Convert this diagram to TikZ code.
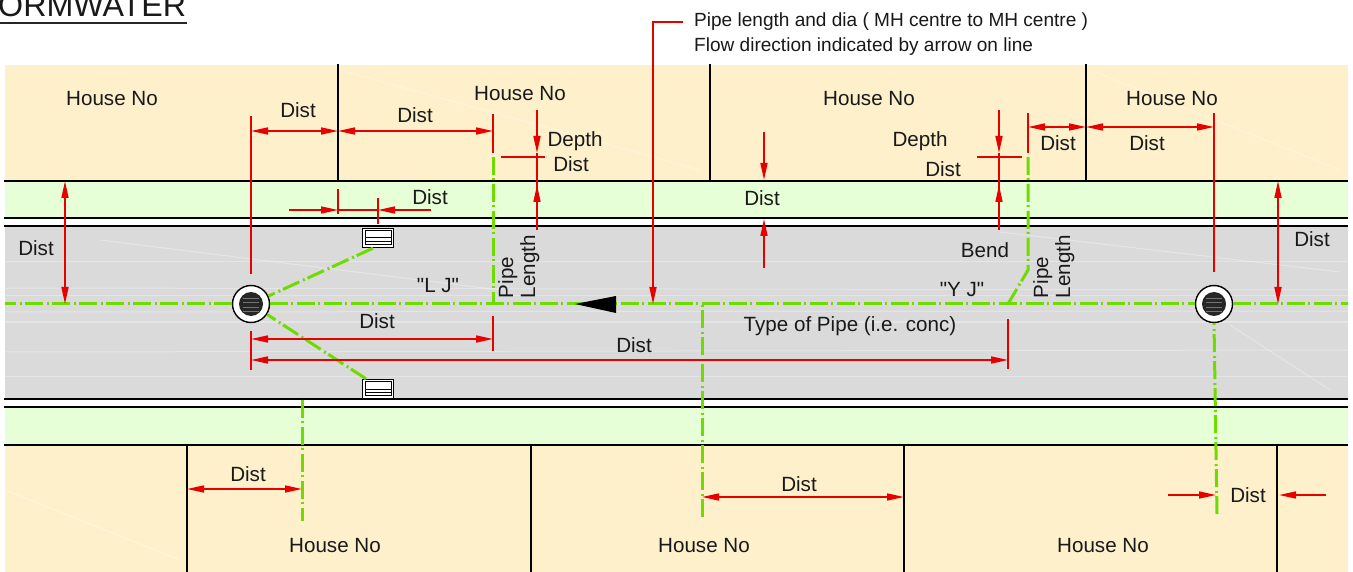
\documentclass[tikz,border=0pt]{standalone}
\usepackage{fontspec}
\setmainfont{Liberation Sans}[Ligatures=TeXOff]
\usetikzlibrary{arrows.meta}
\definecolor{lotc}{HTML}{FFF0CC}
\definecolor{vergec}{HTML}{E6FFD6}
\definecolor{roadc}{HTML}{DADADA}
\definecolor{redc}{HTML}{E60000}
\definecolor{pipec}{HTML}{6FDB00}
\tikzset{
  lbl/.style={font=\fontsize{20.6}{24}\selectfont,inner sep=0pt,text=black!90},
  note/.style={font=\fontsize{19.05}{23}\selectfont,inner sep=0pt,anchor=west,text=black!90},
  vlbl/.style={lbl,rotate=90,anchor=base west},
  bound/.style={draw=black,line width=1.9pt},
  thinbound/.style={draw=black,line width=1.2pt},
  pipe/.style={draw=pipec,line width=3pt,dash pattern=on 18pt off 3pt on 2pt off 4pt},
  dimline/.style={draw=redc,line width=1.6pt},
  tipa/.style={dimline,-{Stealth[inset=0pt,length=17pt,width=7pt]}},
  tipb/.style={dimline,{Stealth[inset=0pt,length=17pt,width=7pt]}-{Stealth[inset=0pt,length=17pt,width=7pt]}},
  manhole/.style={circle,draw=black,line width=1.4pt,fill=white,minimum size=37pt,inner sep=0pt},
  pit/.style={rectangle,draw=black,line width=1.4pt,fill=white,minimum width=31pt,minimum height=19pt,inner sep=0pt},
  streak/.style={draw=white,opacity=.3,line width=1pt}
}
\begin{document}
\begin{tikzpicture}[x=1pt,y=-1pt]
\useasboundingbox (0,0) rectangle (1353,572);
\fill[white] (0,0) rectangle (1353,572);
% areas
\fill[lotc] (5,65) rectangle (1348,181);
\fill[vergec] (5,181) rectangle (1348,218);
\fill[roadc] (5,226) rectangle (1348,399);
\fill[vergec] (5,407) rectangle (1348,445);
\fill[lotc] (5,445) rectangle (1348,572);
\foreach \ya/\yb in {262/262,288/290,296/296,312/311,322/322,352/350,376/376}
  \draw[streak] (5,\ya) -- (1348,\yb);
\draw[streak] (100,240) -- (500,290);
\draw[streak] (1000,232) -- (1340,272);
\draw[streak] (1230,325) -- (1330,390);
\draw[streak] (340,70) -- (700,170);
\draw[streak] (1090,70) -- (1340,170);
\draw[streak] (5,490) -- (180,560);
% title
\node[anchor=base west,font=\fontsize{32.2}{36}\selectfont,inner sep=0pt,text=black!90] (title) at (-2,17) {ORMWATER};
\coordinate (ulA) at (0,23); \coordinate (ulB) at (187,23);
\draw[black!85,line width=1.4pt] (ulA) -- (ulB);
% boundaries
\foreach \y/\s in {181/bound,218/bound,226/thinbound,399/bound,407/bound,445/bound}
  \draw[\s] (4,\y) -- (1348,\y);
\foreach \x in {338,710,1086}
  \draw[bound] (\x,64) -- (\x,181);
\foreach \x in {187,531,904,1277}
  \draw[bound] (\x,445) -- (\x,572);
% structures
\node[manhole] (mhL) at (251,304) {};
\node[manhole] (mhR) at (1214,304) {};
\foreach \m in {mhL,mhR}{
  \fill[black!85] (\m) circle (12pt);
  \foreach \dy in {-6,-2,3,7}
    \draw[black!55,line width=.5pt] ([shift={(-8,\dy)}]\m.center) -- ([shift={(8,\dy)}]\m.center);
}
\node[pit] (pitT) at (378,238) {};
\node[pit] (pitB) at (378,389) {};
\foreach \p in {pitT,pitB}{
  \draw[black,line width=1pt] ([shift={(3.5,-3.5)}]\p.south west) rectangle ([shift={(-3,3)}]\p.north east);
  \draw[black,line width=1pt] ([shift={(3.5,0)}]\p.west) -- ([shift={(-3,0)}]\p.east);
  \draw[black,line width=1pt] ([shift={(3.5,3.5)}]\p.west) -- ([shift={(-3,3.5)}]\p.east);
}
% pipes
\coordinate (pipeW) at (5,304); \coordinate (pipeE) at (1348,304);
\coordinate (jL) at (493,304); \coordinate (jLt) at (493,157);
\coordinate (jY) at (1008,304); \coordinate (bendY) at (1028,270); \coordinate (jYt) at (1028,157);
\coordinate (jM) at (702,304); \coordinate (jMb) at (702,517);
\coordinate (sB) at (302,400); \coordinate (sBb) at (302,521);
\coordinate (sR) at (1214,323); \coordinate (sRb) at (1217,514);
\draw[pipe] (mhL.west) -- (pipeW);
\draw[pipe] (mhL.east) -- (mhR.west);
\draw[pipe] (mhR.east) -- (pipeE);
\draw[pipe] ([xshift=-5pt]pitT.south) -- (mhL);
\draw[pipe] ([xshift=-12pt]pitB.north) -- (mhL);
\draw[pipe] (jLt) -- (jL);
\draw[pipe] (jYt) -- (bendY) -- (jY);
\draw[pipe] (jMb) -- (jM);
\draw[pipe] (sB) -- (sBb);
\draw[pipe] (sRb) -- (sR);
% flow arrow
\coordinate (flowA) at (575,304); \coordinate (flowB) at (616,296); \coordinate (flowC) at (616,313);
\fill[black] (flowA) -- (flowB) -- (flowC) -- cycle;
% left top dims
\coordinate (a1) at (251,116); \coordinate (a2) at (251,274);
\draw[dimline] (a1) -- (a2);
\coordinate (a3) at (251,131); \coordinate (a4) at (338,131); \coordinate (a5) at (493,131);
\draw[tipb] (a3) -- (a4);
\draw[tipb] (a4) -- (a5);
\coordinate (a6) at (493,114); \coordinate (a7) at (493,153);
\draw[dimline] (a6) -- (a7);
% depth left
\coordinate (b1) at (537,110); \coordinate (b2) at (537,153); \coordinate (b3) at (537,230); \coordinate (b4) at (537,185);
\draw[tipa] (b1) -- (b2);
\draw[dimline] (b3) -- (b2);
\draw[tipa] (b3) -- (b4);
\coordinate (b5) at (501,157); \coordinate (b6) at (545,157);
\draw[dimline] (b5) -- (b6);
% gully dim
\coordinate (c1) at (289,210); \coordinate (c2) at (338,210); \coordinate (c3) at (378,210); \coordinate (c4) at (431,210);
\draw[tipa] (c1) -- (c2);
\draw[dimline] (c2) -- (c3);
\draw[tipa] (c4) -- (c3);
\coordinate (c5) at (338,189); \coordinate (c6) at (338,214); \coordinate (c7) at (378,198); \coordinate (c8) at (378,224);
\draw[dimline] (c5) -- (c6);
\draw[dimline] (c7) -- (c8);
% left offset
\coordinate (d1) at (65,181); \coordinate (d2) at (65,304);
\draw[tipb] (d1) -- (d2);
\coordinate (d3) at (1278,181); \coordinate (d4) at (1278,304);
\draw[tipb] (d3) -- (d4);
% middle
\coordinate (e1) at (764,132); \coordinate (e2) at (764,180); \coordinate (e3) at (764,268); \coordinate (e4) at (764,219);
\draw[tipa] (e1) -- (e2);
\draw[tipa] (e3) -- (e4);
% leader
\coordinate (f1) at (683,22); \coordinate (f2) at (653,22); \coordinate (f3) at (653,304);
\draw[tipa] (f1) -- (f2) -- (f3);
% chainage
\coordinate (g1) at (251,331); \coordinate (g2) at (251,370);
\draw[dimline] (g1) -- (g2);
\coordinate (g3) at (493,316); \coordinate (g4) at (493,351);
\draw[dimline] (g3) -- (g4);
\coordinate (g5) at (1008,319); \coordinate (g6) at (1008,369);
\draw[dimline] (g5) -- (g6);
\coordinate (g7) at (251,339); \coordinate (g8) at (493,339);
\draw[tipb] (g7) -- (g8);
\coordinate (g9) at (251,360); \coordinate (g10) at (1008,360);
\draw[tipb] (g9) -- (g10);
% right top
\coordinate (h1) at (999,110); \coordinate (h2) at (999,153); \coordinate (h3) at (999,230); \coordinate (h4) at (999,185);
\draw[tipa] (h1) -- (h2);
\draw[dimline] (h3) -- (h2);
\draw[tipa] (h3) -- (h4);
\coordinate (h5) at (977,157); \coordinate (h6) at (1022,157);
\draw[dimline] (h5) -- (h6);
\coordinate (i1) at (1028,113); \coordinate (i2) at (1028,153);
\draw[dimline] (i1) -- (i2);
\coordinate (i3) at (1214,113); \coordinate (i4) at (1214,272);
\draw[dimline] (i3) -- (i4);
\coordinate (i5) at (1028,127); \coordinate (i6) at (1086,127); \coordinate (i7) at (1214,127);
\draw[tipb] (i5) -- (i6);
\draw[tipb] (i6) -- (i7);
% bottom
\coordinate (j1) at (187,489); \coordinate (j2) at (302,489);
\draw[tipb] (j1) -- (j2);
\coordinate (j3) at (702,497); \coordinate (j4) at (904,497);
\draw[tipb] (j3) -- (j4);
\coordinate (j5) at (1168,495); \coordinate (j6) at (1216,495); \coordinate (j7) at (1326,495); \coordinate (j8) at (1279,495);
\draw[tipa] (j5) -- (j6);
\draw[tipa] (j7) -- (j8);
% labels
\node[lbl] (hn1) at (112,98.5) {House No};
\node[lbl] (hn2) at (520,93.5) {House No};
\node[lbl] (hn3) at (869,98.5) {House No};
\node[lbl] (hn4) at (1172,98.5) {House No};
\node[lbl] (hn5) at (335,546) {House No};
\node[lbl] (hn6) at (704,546) {House No};
\node[lbl] (hn7) at (1103,546) {House No};
\node[lbl] (t1) at (298,110) {Dist};
\node[lbl] (t2) at (415,115) {Dist};
\node[lbl] (t3) at (430,197) {Dist};
\node[lbl] (t4) at (36,248) {Dist};
\node[lbl] (t5) at (575,141) {Depth};
\node[lbl] (t6) at (571,164) {Dist};
\node[lbl] (t7) at (762,198) {Dist};
\node[lbl] (t8) at (920,141) {Depth};
\node[lbl] (t9) at (943,169) {Dist};
\node[lbl] (t10) at (1058,143) {Dist};
\node[lbl] (t11) at (1147,143) {Dist};
\node[lbl] (t12) at (1312,239) {Dist};
\node[lbl] (t13) at (377,321) {Dist};
\node[lbl] (t14) at (634,345) {Dist};
\node[lbl] (t15) at (248,474) {Dist};
\node[lbl] (t16) at (799,484) {Dist};
\node[lbl] (t17) at (1248,495) {Dist};
\node[lbl] (t18) at (985,250.5) {Bend};
\node[lbl] (t19) at (438,285.5) {"L J"};
\node[lbl] (t20) at (962,289.5) {"Y J"};
\node[lbl] (t21) at (850,326) {Type of Pipe (i.e. conc)};
\node[vlbl] (p1) at (513,298.5) {Pipe};
\node[vlbl] (p2) at (535,298.5) {Length};
\node[vlbl] (p3) at (1048,298.5) {Pipe};
\node[vlbl] (p4) at (1070,298.5) {Length};
\node[note] (n1) at (694,22) {Pipe length and dia ( MH centre to MH centre )};
\node[note] (n2) at (694,47) {Flow direction indicated by arrow on line};
\end{tikzpicture}
\end{document}
